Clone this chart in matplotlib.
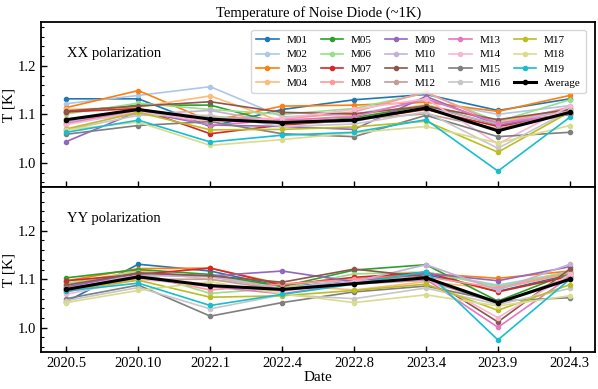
import matplotlib
matplotlib.use("Agg")
from matplotlib import pyplot as plt
from matplotlib.ticker import MultipleLocator

plt.rcParams['font.family'] = ['Liberation Serif', 'DejaVu Serif']

dates = ["2020.5", "2020.10", "2022.1", "2022.4", "2022.8", "2023.4", "2023.9", "2024.3"]
names = ["M%02d" % i for i in range(1, 20)]

# XX polarization, one list per module
xx = [
    [1.132, 1.132, 1.075, 1.110, 1.130, 1.141, 1.108, 1.132],
    [1.122, 1.139, 1.157, 1.095, 1.100, 1.128, 1.100, 1.118],
    [1.114, 1.149, 1.086, 1.117, 1.119, 1.125, 1.106, 1.139],
    [1.110, 1.115, 1.138, 1.085, 1.098, 1.120, 1.085, 1.110],
    [1.105, 1.119, 1.119, 1.080, 1.093, 1.118, 1.078, 1.102],
    [1.101, 1.123, 1.110, 1.100, 1.112, 1.144, 1.085, 1.130],
    [1.105, 1.112, 1.060, 1.078, 1.088, 1.110, 1.075, 1.100],
    [1.082, 1.108, 1.095, 1.090, 1.105, 1.146, 1.080, 1.115],
    [1.044, 1.106, 1.078, 1.075, 1.069, 1.137, 1.078, 1.100],
    [1.085, 1.100, 1.108, 1.082, 1.085, 1.115, 1.080, 1.108],
    [1.107, 1.117, 1.126, 1.104, 1.101, 1.117, 1.089, 1.110],
    [1.090, 1.102, 1.095, 1.085, 1.090, 1.101, 1.070, 1.105],
    [1.080, 1.112, 1.078, 1.088, 1.095, 1.132, 1.082, 1.100],
    [1.079, 1.105, 1.085, 1.092, 1.110, 1.132, 1.039, 1.117],
    [1.059, 1.077, 1.085, 1.060, 1.054, 1.098, 1.054, 1.063],
    [1.068, 1.098, 1.098, 1.075, 1.080, 1.105, 1.030, 1.108],
    [1.070, 1.104, 1.068, 1.069, 1.074, 1.086, 1.022, 1.105],
    [1.068, 1.084, 1.036, 1.048, 1.062, 1.075, 1.041, 1.077],
    [1.063, 1.088, 1.043, 1.057, 1.063, 1.089, 0.983, 1.094],
]
xx_avg = [1.089, 1.110, 1.090, 1.083, 1.088, 1.113, 1.066, 1.104]

# YY polarization
yy = [
    [1.054, 1.131, 1.117, 1.085, 1.095, 1.110, 1.075, 1.110],
    [1.085, 1.110, 1.108, 1.080, 1.100, 1.115, 1.088, 1.115],
    [1.097, 1.122, 1.123, 1.090, 1.100, 1.112, 1.102, 1.117],
    [1.090, 1.118, 1.099, 1.088, 1.078, 1.095, 1.080, 1.112],
    [1.103, 1.120, 1.110, 1.085, 1.119, 1.130, 1.055, 1.113],
    [1.092, 1.115, 1.071, 1.082, 1.111, 1.115, 1.085, 1.116],
    [1.097, 1.110, 1.123, 1.088, 1.104, 1.114, 1.074, 1.106],
    [1.080, 1.108, 1.078, 1.090, 1.100, 1.105, 1.082, 1.113],
    [1.084, 1.113, 1.107, 1.117, 1.095, 1.112, 1.097, 1.126],
    [1.080, 1.108, 1.105, 1.080, 1.095, 1.130, 1.078, 1.131],
    [1.088, 1.113, 1.107, 1.094, 1.121, 1.105, 1.012, 1.121],
    [1.082, 1.100, 1.100, 1.078, 1.090, 1.098, 1.050, 1.105],
    [1.074, 1.102, 1.085, 1.070, 1.092, 1.100, 1.001, 1.105],
    [1.069, 1.100, 1.088, 1.075, 1.095, 1.102, 1.021, 1.110],
    [1.060, 1.088, 1.024, 1.052, 1.074, 1.086, 1.055, 1.062],
    [1.056, 1.083, 1.039, 1.068, 1.060, 1.082, 1.048, 1.081],
    [1.078, 1.098, 1.063, 1.066, 1.077, 1.090, 1.036, 1.089],
    [1.052, 1.077, 1.095, 1.070, 1.052, 1.068, 1.045, 1.066],
    [1.076, 1.092, 1.046, 1.069, 1.090, 1.116, 0.975, 1.100],
]
yy_avg = [1.079, 1.105, 1.087, 1.079, 1.091, 1.103, 1.052, 1.100]


def draw_panel(ax, data, avg, label):
    cmap = plt.get_cmap('tab20')
    for i, vals in enumerate(data):
        ax.plot(dates, vals, marker='o', markersize=3, linewidth=1.2,
                color=cmap(i), label=names[i])
    ax.plot(dates, avg, marker='o', markersize=3, linewidth=2.2,
            color='black', label='Average')
    ax.set_ylim(0.95, 1.29)
    ax.yaxis.set_major_locator(MultipleLocator(0.1))
    ax.yaxis.set_minor_locator(MultipleLocator(0.02))
    ax.tick_params(direction='in', labelsize=10.5, length=4.5, width=1)
    ax.tick_params(which='minor', direction='in', length=2.5, width=0.8)
    ax.set_ylabel("T [K]", fontsize=11, labelpad=2)
    ax.text(0.047, 0.79, label, transform=ax.transAxes, fontsize=10.5)
    for s in ax.spines.values():
        s.set_linewidth(1.3)


fig, (ax1, ax2) = plt.subplots(2, 1, sharex=True, figsize=(5.98, 3.89), dpi=100)
fig.subplots_adjust(left=0.069, right=0.995, top=0.943, bottom=0.095, hspace=0)

draw_panel(ax1, xx, xx_avg, "XX polarization")
draw_panel(ax2, yy, yy_avg, "YY polarization")

ax1.legend(ncol=5, fontsize=8, loc='upper right', handlelength=2.0,
           columnspacing=1.2, labelspacing=0.42, borderpad=0.45,
           handletextpad=0.7, bbox_to_anchor=(0.993, 0.985))
ax1.set_title("Temperature of Noise Diode (~1K)", fontsize=10.5, pad=4)
ax2.set_xlabel("Date", fontsize=11, labelpad=1)

fig.savefig("out.png", dpi=100)
